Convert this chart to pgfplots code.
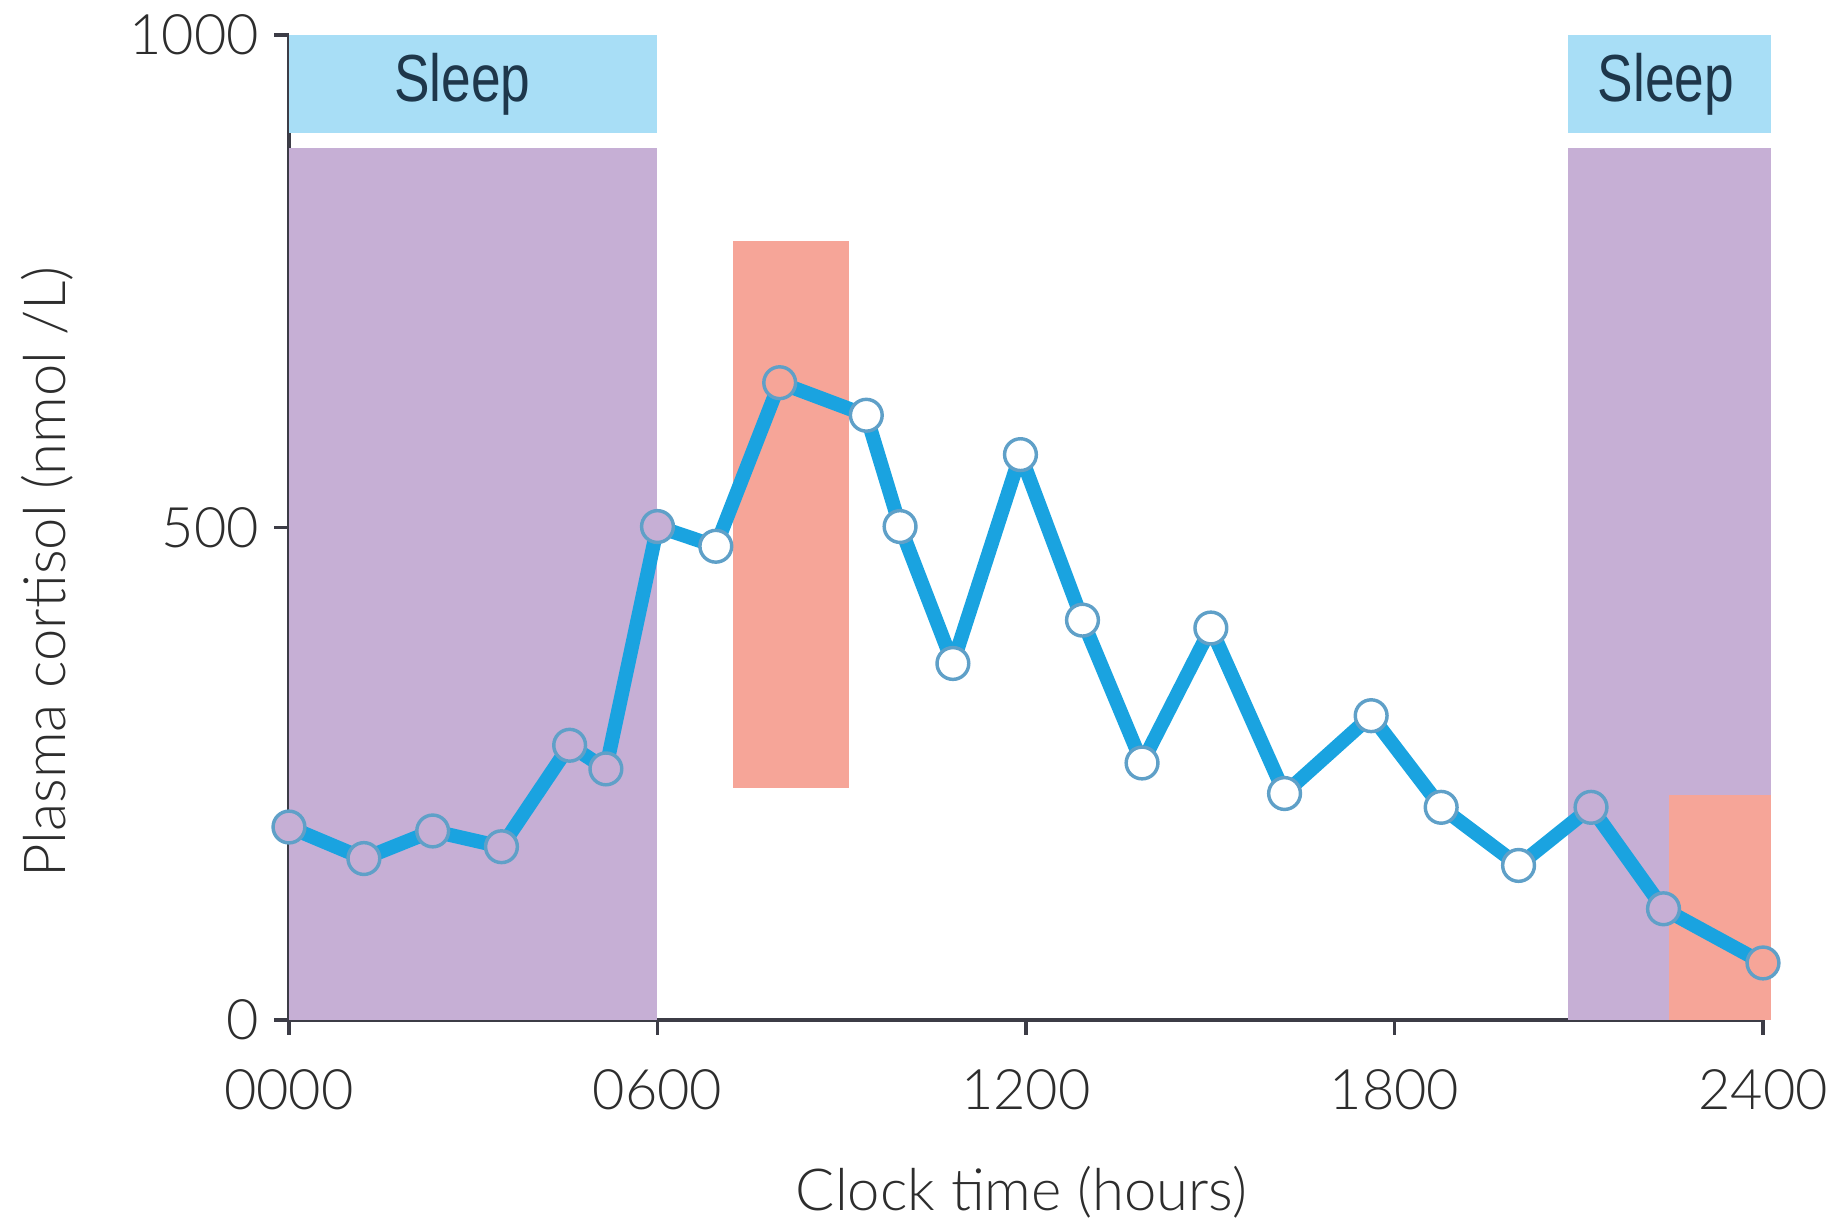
\documentclass[border=0pt]{standalone}
\usepackage{fontspec}
\setmainfont{Lato}[UprightFont={* Light}]
\newfontfamily\sleepfont[FakeStretch=0.8]{Liberation Sans}
\usepackage{pgfplots}
\pgfplotsset{compat=1.18}

\definecolor{sleepblue}{RGB}{168,222,246}
\definecolor{sleeppurple}{RGB}{198,175,213}
\definecolor{salmon}{RGB}{246,165,152}
\definecolor{cortblue}{RGB}{26,163,224}
\definecolor{markedge}{RGB}{95,160,200}
\definecolor{axisgrey}{RGB}{60,60,70}
\definecolor{textgrey}{RGB}{45,45,45}
\definecolor{sleeptext}{RGB}{30,55,75}

% clock time (h), cortisol (nmol/L), background under the marker
\pgfplotstableread{
t     v    bg
0.00  196  p
1.22  164  p
2.34  192  p
3.46  176  p
4.57  279  p
5.16  255  p
6.00  501  p
6.95  481  w
7.99  647  s
9.40  614  w
9.95  501  w
10.81 362  w
11.91 574  w
12.92 406  w
13.89 261  w
15.01 398  w
16.21 230  w
17.62 309  w
18.76 216  w
20.02 157  w
21.20 216  p
22.38 113  p
24.00  58  s
}\cortisol

\begin{document}
\begin{tikzpicture}
\begin{axis}[
  scale only axis,
  width=12.06cm, height=8.06cm,
  xmin=0, xmax=24, ymin=0, ymax=1000,
  clip=false,
  axis lines*=left,
  axis line style={axisgrey, line width=0.8pt},
  tick style={axisgrey, line width=0.8pt},
  tick align=outside,
  major tick length=0.12cm,
  xtick={0,6,12,18,24},
  xticklabels={0000,0600,1200,1800,2400},
  ytick={0,500,1000},
  yticklabels={0,500,1000},
  ticklabel style={font=\fontsize{13}{15}\selectfont, text=textgrey},
  xticklabel style={yshift=-0.16cm},
  xlabel={Clock time (hours)},
  ylabel={Plasma cortisol (nmol /L)},
  label style={font=\fontsize{13.5}{16}\selectfont, text=textgrey},
  xlabel style={at={(axis description cs:0.497,-0.1746)}, anchor=center},
  ylabel style={at={(axis description cs:-0.164,0.455)}, anchor=center},
]
  % sleep bands
  \addplot[fill=sleepblue, draw=none] coordinates {(0,900) (0,1000) (6,1000) (6,900)} -- cycle;
  \addplot[fill=sleepblue, draw=none] coordinates {(20.82,900) (20.82,1000) (24.13,1000) (24.13,900)} -- cycle;
  \addplot[fill=sleeppurple, draw=none] coordinates {(0,0) (0,885) (6,885) (6,0)} -- cycle;
  \addplot[fill=sleeppurple, draw=none] coordinates {(20.82,0) (20.82,885) (24.13,885) (24.13,0)} -- cycle;
  % red bands
  \addplot[fill=salmon, draw=none] coordinates {(7.23,236) (7.23,791) (9.12,791) (9.12,236)} -- cycle;
  \addplot[fill=salmon, draw=none] coordinates {(22.47,0) (22.47,228) (24.13,228) (24.13,0)} -- cycle;

  \node[font=\sleepfont\fontsize{15.5}{18}\selectfont, text=sleeptext] at (axis cs:2.82,950) {Sleep};
  \node[font=\sleepfont\fontsize{15.5}{18}\selectfont, text=sleeptext] at (axis cs:22.42,950) {Sleep};

  % cortisol curve
  \addplot[cortblue, line width=3.3pt, line join=round, mark=none] table[x=t, y=v] {\cortisol};
  \addplot[scatter, only marks, scatter src=explicit symbolic,
    mark size=3.7pt,
    scatter/classes={
      w={mark=*, fill=white, draw=markedge, line width=0.8pt},
      p={mark=*, fill=sleeppurple, draw=markedge, line width=0.8pt},
      s={mark=*, fill=salmon, draw=markedge, line width=0.8pt}}]
    table[x=t, y=v, meta=bg] {\cortisol};

  \coordinate (bbl) at (axis cs:-4.705,-207.1);
  \coordinate (btr) at (axis cs:25.14,1035.5);
\end{axis}
\pgfresetboundingbox
\path[use as bounding box] (bbl) rectangle (btr);
\end{tikzpicture}
\end{document}
